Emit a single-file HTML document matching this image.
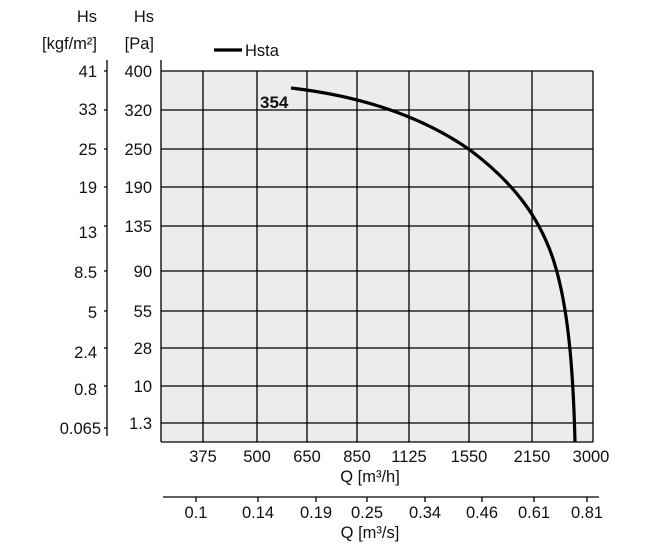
<!DOCTYPE html>
<html><head><meta charset="utf-8"><style>
body{margin:0;background:#fff;width:648px;height:549px;overflow:hidden}
svg text{font-family:"Liberation Sans",sans-serif;font-size:16.5px;fill:#111}
</style></head><body>
<svg width="648" height="549" xmlns="http://www.w3.org/2000/svg">
<rect x="161" y="71" width="432" height="371" fill="#ececec"/>
<g stroke="#000" stroke-width="1.3" fill="none">
<line x1="161" y1="60" x2="161" y2="442"/>
<line x1="161" y1="442" x2="593" y2="442"/>
<line x1="593" y1="71" x2="593" y2="442"/>
<g>
<line x1="161" y1="71" x2="593" y2="71"/><line x1="161" y1="110" x2="593" y2="110"/>
<line x1="161" y1="149" x2="593" y2="149"/><line x1="161" y1="187" x2="593" y2="187"/>
<line x1="161" y1="226" x2="593" y2="226"/><line x1="161" y1="271" x2="593" y2="271"/>
<line x1="161" y1="311" x2="593" y2="311"/><line x1="161" y1="348" x2="593" y2="348"/>
<line x1="161" y1="386" x2="593" y2="386"/><line x1="161" y1="423" x2="593" y2="423"/>
</g>
<g>
<line x1="203" y1="71" x2="203" y2="442"/><line x1="257" y1="71" x2="257" y2="442"/>
<line x1="307" y1="71" x2="307" y2="442"/><line x1="357" y1="71" x2="357" y2="442"/>
<line x1="409" y1="71" x2="409" y2="442"/><line x1="469" y1="71" x2="469" y2="442"/>
<line x1="532" y1="71" x2="532" y2="442"/>
</g>
<line x1="107" y1="60" x2="107" y2="436"/>
<path d="M104 71H107M104 110H107M104 149H107M104 187H107M104 226H107M104 271H107M104 311H107M104 348H107M104 386H107M104 428H107"/>
<line x1="163" y1="497" x2="599" y2="497"/>
<path d="M196 497v5M258 497v5M316 497v5M367 497v5M425 497v5M482 497v5M534 497v5M587 497v5"/>
</g>
<path d="M291 88 C360 96 420 115 470 150 C510 180 540 215 555 265 C567 305 573 360 575 442" stroke="#000" stroke-width="3.2" fill="none"/>
<line x1="214" y1="50" x2="242" y2="50" stroke="#000" stroke-width="3.2"/>
<text x="245" y="56">Hsta</text>
<text x="260" y="108" style="font-weight:bold;font-size:17px">354</text>
<g text-anchor="end">
<text x="97" y="22">Hs</text><text x="97" y="49">[kgf/m²]</text>
<text x="154" y="22">Hs</text><text x="154" y="49">[Pa]</text>
<text x="97" y="77">41</text><text x="97" y="115">33</text><text x="97" y="155">25</text>
<text x="97" y="193">19</text><text x="97" y="238">13</text><text x="97" y="278">8.5</text>
<text x="97" y="318">5</text><text x="97" y="358">2.4</text><text x="97" y="395">0.8</text>
<text x="101" y="434">0.065</text>
<text x="152" y="77">400</text><text x="152" y="116">320</text><text x="152" y="155">250</text>
<text x="152" y="193">190</text><text x="152" y="232">135</text><text x="152" y="277">90</text>
<text x="152" y="317">55</text><text x="152" y="354">28</text><text x="152" y="392">10</text>
<text x="152" y="429">1.3</text>
</g>
<g text-anchor="middle">
<text x="203" y="462">375</text><text x="257" y="462">500</text><text x="307" y="462">650</text>
<text x="357" y="462">850</text><text x="409" y="462">1125</text><text x="469" y="462">1550</text>
<text x="532" y="462">2150</text><text x="591" y="462">3000</text>
<text x="370" y="482">Q [m³/h]</text>
<text x="196" y="518">0.1</text><text x="258" y="518">0.14</text><text x="316" y="518">0.19</text>
<text x="367" y="518">0.25</text><text x="425" y="518">0.34</text><text x="482" y="518">0.46</text>
<text x="534" y="518">0.61</text><text x="587" y="518">0.81</text>
<text x="370" y="538">Q [m³/s]</text>
</g>
</svg>
</body></html>
